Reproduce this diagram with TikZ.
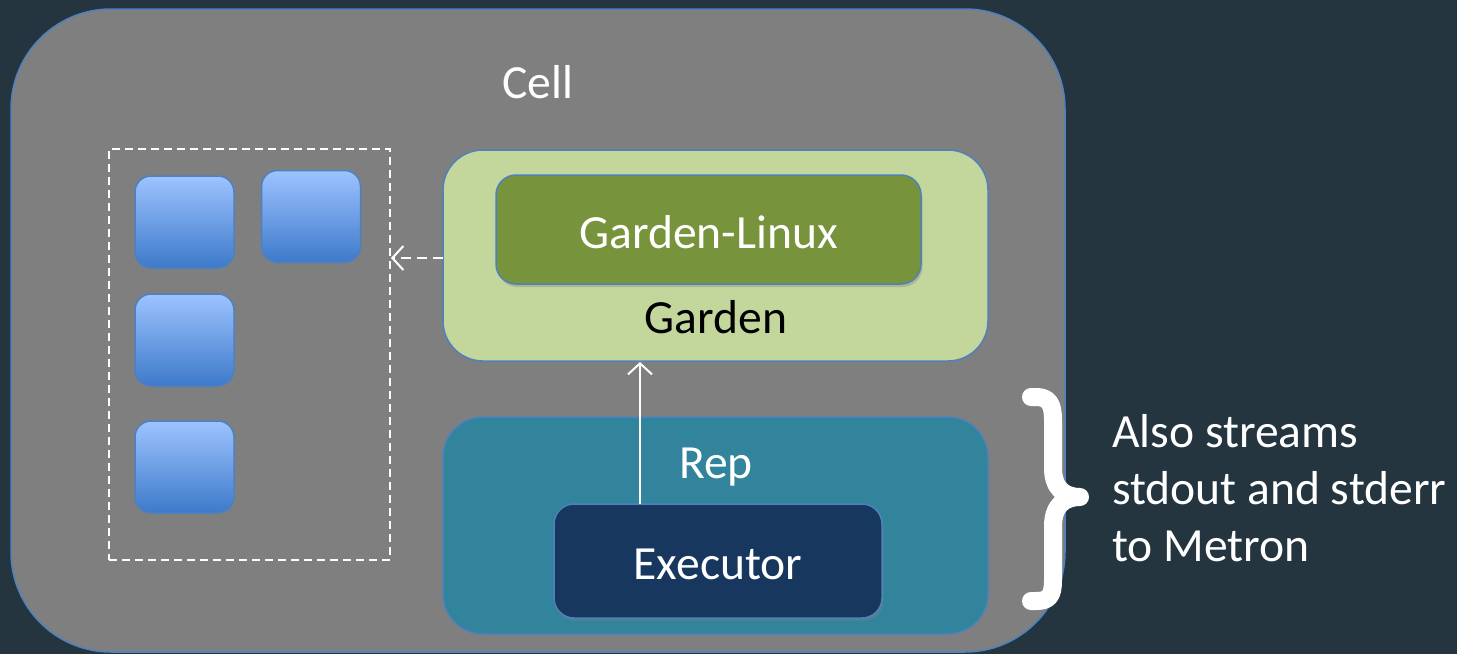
\documentclass[tikz,border=0pt]{standalone}
\usepackage{fontspec}
\setmainfont{Carlito}
\usetikzlibrary{arrows.meta,shadows}
\definecolor{bgc}{HTML}{243540}
\definecolor{cellc}{HTML}{7F7F7F}
\definecolor{edgec}{HTML}{4F81BD}
\definecolor{gardenc}{HTML}{C3D69B}
\definecolor{glc}{HTML}{77933C}
\definecolor{repc}{HTML}{31849B}
\definecolor{execc}{HTML}{17375E}
\definecolor{sqtop}{HTML}{9DC3FF}
\definecolor{sqbot}{HTML}{3D7ACA}
\tikzset{
  px/.style={x=1pt,y=-1pt},
  boxbase/.style={draw=edgec, line width=1.5pt, inner sep=0pt},
  shad/.style={drop shadow={opacity=0.35, shadow xshift=1.5pt, shadow yshift=-3pt}},
  bluesq/.style={boxbase, shad, rounded corners=16pt, top color=sqtop, bottom color=sqbot, minimum width=99pt, minimum height=92pt},
  txt/.style={font=\fontsize{47.6}{57}\selectfont, inner sep=0pt},
  wline/.style={white, line width=2pt},
}
\begin{document}
\begin{tikzpicture}[px]
\fill[bgc] (0,0) rectangle (1457,654);
\useasboundingbox (0,0) rectangle (1457,654);
% Cell
\node[boxbase, fill=cellc, rounded corners=100pt, minimum width=1054pt, minimum height=643pt] (cell) at (538,330.5) {};
\node[txt, text=white] (celltxt) at (538,82) {Cell};
% dashed container
\node[draw=white, line width=1.5pt, dash pattern=on 8pt off 5pt, minimum width=281pt, minimum height=411pt, inner sep=0pt] (cont) at (249.5,354.5) {};
% blue squares
\node[bluesq] (s1) at (184.5,222) {};
\node[bluesq] (s2) at (311,216.5) {};
\node[bluesq] (s3) at (184.5,340) {};
\node[bluesq] (s4) at (184.5,467) {};
% Garden
\node[boxbase, shad, fill=gardenc, rounded corners=40pt, minimum width=545pt, minimum height=211pt] (garden) at (715.5,255.5) {};
\node[boxbase, shad, fill=glc, rounded corners=20pt, minimum width=425pt, minimum height=109pt] (gl) at (708.5,229.5) {};
\node[txt, text=white] (gltxt) at (708.5,232) {Garden-Linux};
\node[txt, text=black] (gardentxt) at (716,317) {Garden};
% Rep
\node[boxbase, shad, fill=repc, rounded corners=40pt, minimum width=545pt, minimum height=217pt] (rep) at (715.5,525.5) {};
\node[txt, text=white] (reptxt) at (716,467) {Rep};
\node[boxbase, shad, fill=execc, rounded corners=20pt, minimum width=328pt, minimum height=114pt] (exec) at (718,561) {};
\node[txt, text=white] (exectxt) at (718,564) {Executor};
% arrows
\coordinate (a1) at (640,504);
\coordinate (a2) at (640,362);
\draw[wline, -{Straight Barb[length=11pt,width=24pt,line width=2pt]}] (a1) -- (a2);
\coordinate (d1) at (443,258);
\coordinate (d2) at (391,258);
\draw[wline, dash pattern=on 10pt off 6pt, -{Straight Barb[length=11pt,width=24pt,line width=2pt]}] (d1) -- (d2);
% brace
\draw[white, line width=18pt, line cap=round, line join=round]
  (1031,397) -- (1036,397) .. controls (1049,397) and (1053,404) .. (1053,420)
  -- (1053,468) .. controls (1053,488) and (1064,497) .. (1080,497)
  .. controls (1064,497) and (1053,506) .. (1053,526)
  -- (1053,580) .. controls (1053,596) and (1049,601) .. (1036,601) -- (1031,601);
% side text
\node[txt, text=white, anchor=north west, align=left] (side) at (1112,414) {Also streams\\stdout and stderr\\to Metron};
\end{tikzpicture}
\end{document}
